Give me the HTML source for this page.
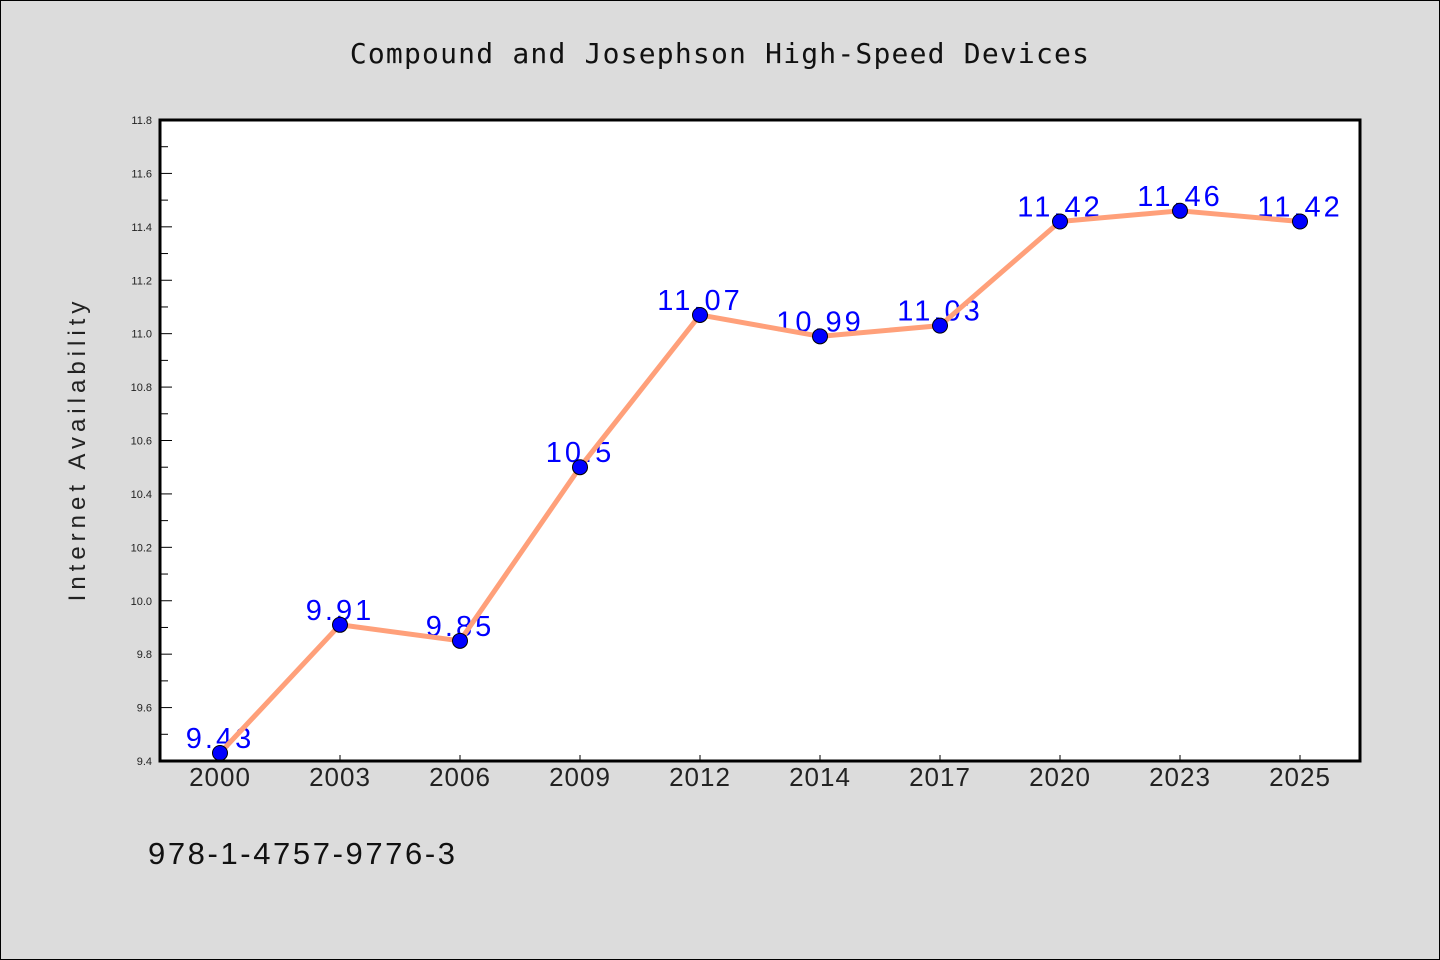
<!DOCTYPE html>
<html><head><meta charset="utf-8"><style>
html,body{margin:0;padding:0;background:#dcdcdc;}
svg{display:block;font-family:"WenQuanYi Zen Hei","Liberation Sans",sans-serif;}
</style></head><body>
<svg id="chart" width="1440" height="960">
<rect x="0.5" y="0.5" width="1439" height="959" fill="#dcdcdc" stroke="#000"/>
<text x="720" y="63" text-anchor="middle" font-size="28" letter-spacing="1.2" font-family="'DejaVu Sans Mono','Liberation Mono',monospace" fill="#111">Compound and Josephson High-Speed Devices</text>
<text transform="translate(85,449) rotate(-90)" text-anchor="middle" font-size="24" letter-spacing="5" fill="#222">Internet Availability</text>
<text x="148" y="864" font-size="31" letter-spacing="2.6" fill="#111">978-1-4757-9776-3</text>
<rect x="160" y="120" width="1200" height="641" fill="#fff"/>
<g id="ticks"></g>
<g id="labels"></g>
<g id="line"></g>
<g id="points"></g>
<rect x="160" y="120" width="1200" height="641" fill="none" stroke="#000" stroke-width="3"/>
</svg>
<script>
const categories=["2000","2003","2006","2009","2012","2014","2017","2020","2023","2025"];
const values=[9.43,9.91,9.85,10.5,11.07,10.99,11.03,11.42,11.46,11.42];
const yTicks=[9.4,9.6,9.8,10.0,10.2,10.4,10.6,10.8,11.0,11.2,11.4,11.6,11.8];
const yMin=9.4,yMax=11.8,L=160,R=1360,T=120,B=761;
const NS="http://www.w3.org/2000/svg";
const xs=i=>L+(R-L)/categories.length*(i+0.5);
const ys=v=>B-(v-yMin)/(yMax-yMin)*(B-T);
function mk(tag,attrs,parent){const e=document.createElementNS(NS,tag);for(const k in attrs)e.setAttribute(k,attrs[k]);document.getElementById(parent).appendChild(e);return e;}
yTicks.forEach((t,i)=>{
 const y=ys(t);
 const tk=mk("line",{x1:L,x2:L+12,y1:y,y2:y,stroke:"#000","stroke-width":1},"ticks");
 
 
 const lb=mk("text",{x:152,y:y+4,"text-anchor":"end","font-size":11,fill:"#222"},"ticks");
 lb.textContent=t.toFixed(1);
 
 
 if(i<yTicks.length-1){const ym=ys(t+0.1);
  const mn=mk("line",{x1:L,x2:L+8,y1:ym,y2:ym,stroke:"#000","stroke-width":1},"ticks");
  
  }
});
categories.forEach((c,i)=>{
 const x=xs(i);
 const tk=mk("line",{x1:x,x2:x,y1:B,y2:B-6,stroke:"#000","stroke-width":1},"ticks");
 
 
 const lb=mk("text",{x:x,y:786,"text-anchor":"middle","font-size":26,"letter-spacing":1,fill:"#222"},"ticks");
 lb.textContent=c;
 
 
 const vl=mk("text",{x:x,y:ys(values[i])-5,"text-anchor":"middle","font-size":29,"letter-spacing":3,fill:"#0000ff"},"labels");
 vl.textContent=String(values[i]);
 
 
});
const pl=mk("polyline",{points:values.map((v,i)=>xs(i)+","+ys(v)).join(" "),fill:"none",stroke:"#ffa07a","stroke-width":5,"stroke-linejoin":"round"},"line");


values.forEach((v,i)=>{
 const c=mk("circle",{cx:xs(i),cy:ys(v),r:7.5,fill:"#0000ff",stroke:"#000","stroke-width":1},"points");
 
 
});
</script>
</body></html>
